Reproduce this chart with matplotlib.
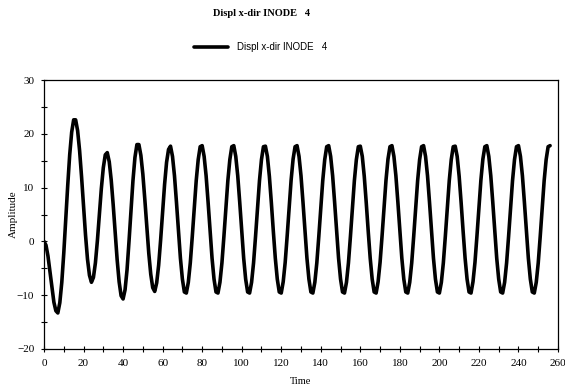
import matplotlib
matplotlib.use('Agg')
import matplotlib.pyplot as plt
from matplotlib.ticker import MultipleLocator

# Displacement in x-direction of node 4 (t = 0..256)
time = list(range(257))
displ = [
    # 0 - 15
    0.0, -0.7, -2.7, -5.6, -8.6, -11.3, -12.9, -13.3, -11.4, -7.6,
    -2.2, 4.1, 10.4, 16.1, 20.3, 22.6,
    # 16 - 31
    22.6, 20.6, 16.9, 12.0, 6.5, 1.2, -3.3, -6.3, -7.6, -6.7,
    -4.0, 0.1, 5.0, 9.8, 13.7, 16.1,
    # 32 - 47
    16.5, 14.8, 11.4, 6.8, 1.6, -3.4, -7.5, -10.1, -10.7, -9.0,
    -5.3, 0.0, 5.8, 11.3, 15.6, 18.0,
    # 48 - 63
    18.0, 16.0, 12.5, 7.8, 2.7, -2.2, -6.1, -8.6, -9.3, -7.7,
    -4.4, 0.3, 5.5, 10.6, 14.7, 17.1,
    # 64 - 79
    17.7, 15.8, 12.2, 7.3, 2.0, -3.1, -7.0, -9.4, -9.6, -7.6,
    -4.0, 0.9, 6.2, 11.3, 15.2, 17.6,
    # 80 - 95
    17.8, 15.8, 12.2, 7.3, 2.0, -3.1, -7.0, -9.4, -9.6, -7.6,
    -4.0, 0.9, 6.2, 11.3, 15.2, 17.6,
    # 96 - 111
    17.8, 15.8, 12.2, 7.3, 2.0, -3.1, -7.0, -9.4, -9.6, -7.6,
    -4.0, 0.9, 6.2, 11.3, 15.2, 17.6,
    # 112 - 127
    17.7, 15.8, 12.1, 7.2, 1.9, -3.1, -7.0, -9.4, -9.6, -7.5,
    -3.9, 1.0, 6.3, 11.4, 15.3, 17.6,
    # 128 - 143
    17.8, 15.8, 12.2, 7.3, 2.0, -3.1, -7.0, -9.4, -9.6, -7.6,
    -4.0, 0.9, 6.2, 11.3, 15.2, 17.6,
    # 144 - 159
    17.8, 15.8, 12.2, 7.3, 2.0, -3.1, -7.0, -9.4, -9.6, -7.6,
    -4.0, 0.9, 6.2, 11.3, 15.2, 17.6,
    # 160 - 175
    17.7, 15.8, 12.1, 7.2, 1.9, -3.1, -7.0, -9.4, -9.6, -7.5,
    -3.9, 1.0, 6.3, 11.4, 15.3, 17.6,
    # 176 - 191
    17.8, 15.8, 12.2, 7.3, 2.0, -3.1, -7.0, -9.4, -9.6, -7.6,
    -4.0, 0.9, 6.2, 11.3, 15.2, 17.6,
    # 192 - 207
    17.8, 15.8, 12.2, 7.3, 2.0, -3.1, -7.0, -9.4, -9.6, -7.6,
    -4.0, 0.9, 6.2, 11.3, 15.2, 17.6,
    # 208 - 223
    17.7, 15.8, 12.1, 7.2, 1.9, -3.1, -7.0, -9.4, -9.6, -7.5,
    -3.9, 1.0, 6.3, 11.4, 15.3, 17.6,
    # 224 - 239
    17.8, 15.8, 12.2, 7.3, 2.0, -3.1, -7.0, -9.4, -9.6, -7.6,
    -4.0, 0.9, 6.2, 11.3, 15.2, 17.6,
    # 240 - 255
    17.8, 15.8, 12.2, 7.3, 2.0, -3.1, -7.0, -9.4, -9.6, -7.6,
    -4.0, 0.9, 6.2, 11.3, 15.2, 17.6,
    # 256
    17.8,
]

title = 'Displ x-dir INODE   4'
serif = 'Liberation Serif'
sans = 'Liberation Sans'

fig = plt.figure(figsize=(5.65, 3.88), dpi=100)
ax = fig.add_axes([44 / 565, 1 - 349 / 388, 514 / 565, 269 / 388])

line, = ax.plot(time, displ, color='black', linewidth=2.6, solid_capstyle='round')

ax.set_xlim(0, 260)
ax.set_ylim(-20, 30)
ax.xaxis.set_major_locator(MultipleLocator(20))
ax.xaxis.set_minor_locator(MultipleLocator(10))
ax.yaxis.set_major_locator(MultipleLocator(10))
ax.yaxis.set_minor_locator(MultipleLocator(5))
ax.tick_params(which='both', direction='inout', length=5, width=0.8,
               top=False, right=False, labelsize=8, pad=4.5)
for lab in ax.get_xticklabels() + ax.get_yticklabels():
    lab.set_fontfamily(serif)
for sp in ax.spines.values():
    sp.set_linewidth(0.9)

ax.set_xlabel('Time', fontfamily=serif, fontsize=7.5, labelpad=7)
ax.set_ylabel('Amplitude', fontfamily=serif, fontsize=8)
ax.yaxis.set_label_coords(-0.05, 0.5)

fig.text(261.5 / 565, 1 - 14 / 388, title, ha='center', va='center',
         fontfamily=serif, fontweight='bold', fontsize=7.5)
fig.legend([line], [title], loc='center', bbox_to_anchor=(261 / 565, 1 - 47 / 388),
           frameon=False, handlelength=3.4, handletextpad=1.0,
           prop={'family': sans, 'size': 7})

fig.savefig('out.png', dpi=100)
